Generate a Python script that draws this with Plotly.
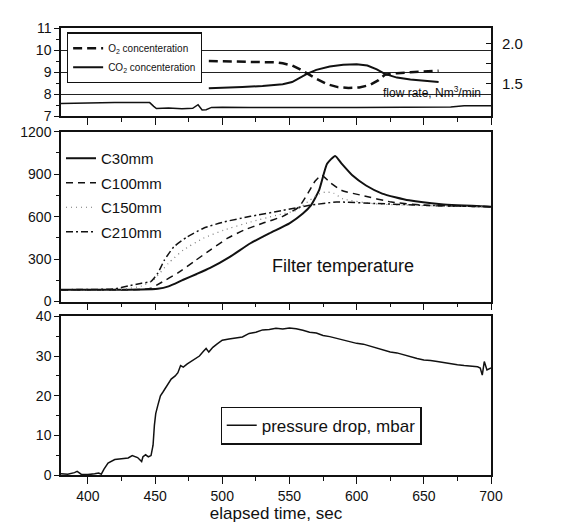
import plotly.graph_objects as go

# ---------------- data ----------------
# top panel: gas concentrations (left axis) and flow rate (right axis)
time_o2 = [490, 500, 510, 520, 530, 540, 545, 552, 558, 563, 570, 578, 586, 594, 602, 610, 616, 621, 630, 640, 650, 661]
o2_conc = [9.5, 9.49, 9.48, 9.47, 9.46, 9.44, 9.4, 9.3, 9.12, 8.93, 8.7, 8.45, 8.32, 8.28, 8.3, 8.42, 8.62, 8.88, 8.95, 8.99, 9.02, 9.06]

time_co2 = [490, 500, 515, 530, 545, 552, 558, 563, 570, 580, 590, 600, 608, 615, 621, 630, 640, 650, 661]
co2_conc = [8.27, 8.28, 8.32, 8.37, 8.45, 8.55, 8.75, 8.92, 9.1, 9.25, 9.33, 9.36, 9.3, 9.12, 8.92, 8.75, 8.66, 8.6, 8.55]

time_flow = [380, 390, 400, 410, 420, 430, 440, 446, 449, 451, 460, 470, 478, 482, 485, 488, 492, 500, 520, 540, 560, 580, 600, 620, 640, 660, 670, 680, 690, 700]
flow_rate = [1.248, 1.254, 1.254, 1.257, 1.259, 1.259, 1.259, 1.259, 1.212, 1.184, 1.190, 1.182, 1.187, 1.232, 1.165, 1.170, 1.198, 1.201, 1.198, 1.201, 1.195, 1.198, 1.198, 1.201, 1.204, 1.209, 1.204, 1.218, 1.215, 1.220]

# middle panel: filter temperature at four positions
time_c30 = [380, 400, 420, 440, 452, 460, 471, 481, 491, 506, 521, 535, 550, 560, 566, 572, 578, 584, 589, 597, 607, 619, 639, 663, 700]
temp_c30 = [84, 84, 84, 85, 90, 107, 154, 195, 238, 318, 412, 482, 553, 622, 680, 785, 973, 1029, 973, 890, 820, 763, 715, 687, 670]

time_c100 = [380, 420, 440, 447, 454, 467, 479, 491, 504, 516, 530, 545, 557, 565, 569, 574, 580, 589, 604, 626, 651, 700]
temp_c100 = [84, 84, 85, 95, 131, 203, 283, 364, 448, 504, 553, 602, 668, 785, 850, 893, 843, 785, 750, 703, 680, 670]

time_c150 = [380, 425, 440, 449, 460, 471, 486, 501, 521, 540, 555, 565, 572, 577, 583, 590, 614, 650, 700]
temp_c150 = [84, 86, 110, 154, 271, 364, 448, 504, 562, 609, 644, 715, 760, 775, 765, 725, 690, 678, 670]

time_c210 = [380, 420, 430, 440, 447, 452, 457, 464, 474, 486, 501, 521, 545, 565, 585, 614, 651, 700]
temp_c210 = [84, 90, 110, 130, 142, 200, 294, 387, 457, 518, 562, 602, 644, 680, 703, 693, 680, 670]

# bottom panel: pressure drop
time_dp = [380, 385, 390, 392, 395, 400, 405, 408, 410, 412, 415, 418, 420, 425, 430, 433, 437, 440, 441, 443,
           445, 447, 448.5, 449.5, 450.5, 452, 454, 456, 458, 460, 462, 465, 467, 469, 471, 474, 477, 480, 483, 486,
           488, 490, 493, 496, 500, 505, 510, 515, 520, 525, 530, 535, 540, 545, 550, 555, 560, 565, 570, 575,
           580, 585, 590, 595, 600, 605, 610, 615, 620, 625, 630, 635, 640, 645, 650, 655, 660, 665, 670, 675,
           680, 685, 690, 692, 693.5, 695, 697, 700]
pressure_drop = [0.3, 0.2, 0.6, 0.9, 0.2, 0.1, 0.3, 0.5, 0.2, 1.5, 3.0, 3.6, 3.9, 4.1, 4.3, 4.9, 4.4, 3.4, 4.6, 5.1,
                 4.6, 4.9, 7.5, 12.5, 15.5, 17.5, 20.0, 21.0, 22.0, 23.2, 24.2, 25.0, 25.8, 27.6, 27.2, 28.0, 28.6, 29.2, 30.0, 31.2,
                 31.9, 31.0, 32.2, 33.0, 34.0, 34.3, 34.5, 34.8, 35.7, 36.0, 36.6, 36.7, 37.0, 36.8, 37.1, 36.9, 36.5, 36.0, 35.8, 35.2,
                 34.9, 34.5, 34.0, 33.6, 33.2, 33.0, 32.5, 32.0, 31.6, 31.0, 30.8, 30.3, 29.8, 29.4, 29.0, 28.9, 28.6, 28.3, 28.0, 27.8,
                 27.6, 27.5, 27.3, 27.0, 25.2, 28.6, 26.5, 27.0]

x_range = [380, 700]
top_y_ticks = [7, 8, 9, 10, 11]
right_y_ticks = [1.5, 2.0]
right_y_text = ["1.5", "2.0"]
right_y_minor = [1.75]
mid_y_ticks = [0, 300, 600, 900, 1200]
bot_y_ticks = [0, 10, 20, 30, 40]
x_ticks = [400, 450, 500, 550, 600, 650, 700]

# ---------------- figure ----------------
FONT = "Liberation Sans, Arial, sans-serif"
BLACK = "#111111"

fig = go.Figure()

# top panel
fig.add_trace(go.Scatter(x=time_o2, y=o2_conc, mode="lines", name="O<sub>2</sub> concenteration",
                         line=dict(color=BLACK, width=2.5, dash="9px,5px"), xaxis="x3", yaxis="y3", legend="legend"))
fig.add_trace(go.Scatter(x=time_co2, y=co2_conc, mode="lines", name="CO<sub>2</sub> concenteration",
                         line=dict(color=BLACK, width=2), xaxis="x3", yaxis="y3", legend="legend"))
fig.add_trace(go.Scatter(x=time_flow, y=flow_rate, mode="lines", name="flow rate", showlegend=False,
                         line=dict(color=BLACK, width=1.5), xaxis="x3", yaxis="y4"))

# middle panel
fig.add_trace(go.Scatter(x=time_c30, y=temp_c30, mode="lines", name="C30mm", legendgroup="a",
                         line=dict(color=BLACK, width=2, shape="spline", smoothing=0.5), xaxis="x2", yaxis="y2", legend="legend2"))
fig.add_trace(go.Scatter(x=time_c100, y=temp_c100, mode="lines", name="C100mm", legendgroup="b",
                         line=dict(color=BLACK, width=1.5, dash="7px,5px", shape="spline", smoothing=0.5), xaxis="x2", yaxis="y2", legend="legend2"))
fig.add_trace(go.Scatter(x=time_c150, y=temp_c150, mode="lines", name="C150mm", legendgroup="c",
                         line=dict(color="#777777", width=1.2, dash="1px,4px", shape="spline", smoothing=0.5), xaxis="x2", yaxis="y2", legend="legend2"))
fig.add_trace(go.Scatter(x=time_c210, y=temp_c210, mode="lines", name="C210mm", legendgroup="d",
                         line=dict(color=BLACK, width=1.5, dash="7px,3px,2px,3px", shape="spline", smoothing=0.5), xaxis="x2", yaxis="y2", legend="legend2"))

# bottom panel
fig.add_trace(go.Scatter(x=time_dp, y=pressure_drop, mode="lines", name="pressure drop, mbar",
                         line=dict(color=BLACK, width=1.5), xaxis="x", yaxis="y", legend="legend3"))

tickfont = dict(family=FONT, size=14, color=BLACK)
common_x = dict(range=x_range, showgrid=False, zeroline=False, showline=True, linecolor=BLACK, linewidth=1.5,
                mirror=True, ticks="outside", ticklen=7, tickwidth=1.2, tickcolor=BLACK,
                tickvals=x_ticks, minor=dict(dtick=25, ticks="outside", ticklen=4, tickcolor=BLACK, tickwidth=1.2))
common_y = dict(zeroline=False, showline=True, linecolor=BLACK, linewidth=1.5, mirror=True,
                ticks="outside", ticklen=5, tickwidth=1.2, tickcolor=BLACK, tickfont=tickfont)

fig.update_layout(
    width=583, height=529,
    margin=dict(l=49, r=100, t=16, b=62),
    paper_bgcolor="white", plot_bgcolor="white",
    font=dict(family=FONT, color=BLACK),
    xaxis=dict(**common_x, anchor="y", domain=[0, 1], tickfont=tickfont,
               title=dict(text="elapsed time, sec", font=dict(family=FONT, size=17, color=BLACK), standoff=4)),
    xaxis2=dict(**common_x, anchor="y2", domain=[0, 1], showticklabels=False, matches="x"),
    xaxis3=dict(**common_x, anchor="y3", domain=[0, 1], showticklabels=False, matches="x"),
    yaxis=dict(**common_y, showgrid=False, domain=[0, 0.3548], range=[0, 40], tickvals=bot_y_ticks,
               minor=dict(dtick=5, ticks="outside", ticklen=3, tickcolor=BLACK)),
    yaxis2=dict(**common_y, showgrid=False, domain=[0.388, 0.768], range=[0, 1200], tickvals=mid_y_ticks,
                minor=dict(dtick=150, ticks="outside", ticklen=3, tickcolor=BLACK)),
    yaxis3=dict(**common_y, showgrid=True, gridcolor="#222222", gridwidth=1,
                domain=[0.8027, 1], range=[7, 11], tickvals=top_y_ticks,
                minor=dict(dtick=0.5, ticks="outside", ticklen=3, tickcolor=BLACK)),
    yaxis4=dict(overlaying="y3", side="right", anchor="x3", range=[1.0875, 2.2], tickvals=right_y_ticks,
                ticktext=right_y_text, ticks="inside", ticklen=5, tickcolor=BLACK, showgrid=False,
                minor=dict(tickvals=right_y_minor, ticks="inside", ticklen=5, tickcolor=BLACK),
                zeroline=False, showline=False, tickfont=dict(family=FONT, size=15, color=BLACK),
                ticklabelstandoff=10),
    legend=dict(x=0.0138, y=0.99, xanchor="left", yanchor="top", bgcolor="white", bordercolor=BLACK,
                borderwidth=1.2, font=dict(family=FONT, size=10, color=BLACK), tracegroupgap=0),
    legend2=dict(x=0.0, y=0.745, xanchor="left", yanchor="top", bgcolor="rgba(0,0,0,0)", borderwidth=0,
                 font=dict(family=FONT, size=15, color=BLACK), tracegroupgap=2),
    legend3=dict(x=0.371, y=0.153, xanchor="left", yanchor="top", bgcolor="white", bordercolor=BLACK,
                 borderwidth=1.2, font=dict(family=FONT, size=17, color=BLACK)),
    annotations=[
        dict(text="flow rate, Nm<sup>3</sup>/min", x=656, y=8.08, xref="x3", yref="y3", showarrow=False,
             font=dict(family=FONT, size=12, color=BLACK)),
        dict(text="Filter temperature", x=590, y=252, xref="x2", yref="y2", showarrow=False,
             font=dict(family=FONT, size=18, color=BLACK)),
    ],
)

fig.write_html("out.html")
